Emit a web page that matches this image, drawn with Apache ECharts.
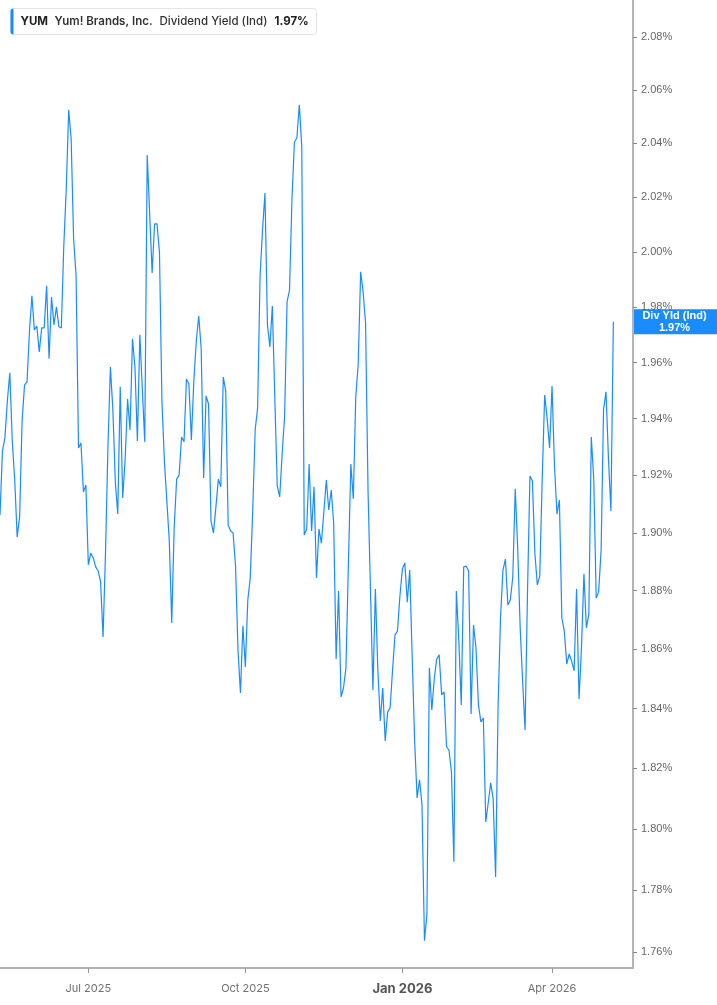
<!DOCTYPE html>
<html>
<head>
<meta charset="utf-8">
<script src="https://cdn.jsdelivr.net/npm/echarts@6/dist/echarts.min.js"></script>
<style>
html,body{margin:0;padding:0;background:#fff;}
#chart{width:717px;height:1005px;}
</style>
</head>
<body>
<div id="chart"></div>
<script>
// ---- DATA ----
const startDate = '2025-05-08';
const holidays = ['2025-05-26','2025-06-19','2025-07-04','2025-09-01','2025-11-27','2025-12-25',
  '2026-01-01','2026-01-19','2026-02-16','2026-04-03','2026-05-25'];
const categoryCount = 259;
const yieldValues = [
 1.9062,1.9286,1.9332,1.9463,1.9563,1.9321,1.9184,1.8985,1.9055,1.9392,
 1.9520,1.9530,1.9710,1.9840,1.9717,1.9731,1.9638,1.9724,1.9724,1.9876,
 1.9613,1.9836,1.9735,1.9800,1.9728,1.9724,2.0021,2.0231,2.0525,2.0416,
 2.0047,1.9916,1.9296,1.9314,1.9142,1.9166,1.8889,1.8930,1.8913,1.8882,
 1.8868,1.8830,1.8642,1.8930,1.9304,1.9584,1.9431,1.9177,1.9065,1.9513,
 1.9121,1.9254,1.9470,1.9360,1.9685,1.9584,1.9321,1.9699,1.9506,1.9318,
 2.0357,2.0139,1.9923,2.0102,2.0102,1.9996,1.9463,1.9251,1.9111,1.8971,
 1.8690,1.9020,1.9187,1.9201,1.9335,1.9318,1.9541,1.9523,1.9325,1.9534,
 1.9677,1.9767,1.9649,1.9191,1.9481,1.9452,1.9041,1.8999,1.9090,1.9187,
 1.9160,1.9548,1.9498,1.9027,1.9006,1.8999,1.8885,1.8598,1.8452,1.8680,
 1.8540,1.8768,1.8844,1.9076,1.9360,1.9438,1.9912,2.0080,2.0216,1.9735,
 1.9656,1.9803,1.9477,1.9163,1.9125,1.9275,1.9409,1.9818,1.9861,2.0194,
 2.0405,2.0420,2.0544,2.0387,1.8992,1.9013,1.9240,1.9006,1.9160,1.8844,
 1.9013,1.8964,1.9072,1.9184,1.9079,1.9149,1.9034,1.8567,1.8799,1.8439,
 1.8469,1.8537,1.8889,1.9240,1.9118,1.9477,1.9595,1.9927,1.9854,1.9742,
 1.9149,1.8799,1.8462,1.8806,1.8530,1.8358,1.8469,1.8291,1.8388,1.8402,
 1.8530,1.8649,1.8662,1.8782,1.8875,1.8896,1.8761,1.8871,1.8574,1.8291,
 1.8102,1.8162,1.8079,1.7636,1.7720,1.8537,1.8395,1.8500,1.8567,1.8581,
 1.8446,1.8456,1.8272,1.8261,1.8188,1.7892,1.8799,1.8632,1.8412,1.8882,
 1.8885,1.8868,1.8382,1.8683,1.8604,1.8412,1.8355,1.8368,1.8023,1.8086,
 1.8152,1.8099,1.7843,1.8405,1.8707,1.8871,1.8909,1.8751,1.8768,1.8847,
 1.9153,1.8947,1.8676,1.8493,1.8328,1.8796,1.9198,1.9180,1.8930,1.8820,
 1.8851,1.9191,1.9484,1.9402,1.9296,1.9516,1.9233,1.9065,1.9114,1.8707,
 1.8662,1.8550,1.8584,1.8560,1.8527,1.8806,1.8432,1.8604,1.8858,1.8673,
 1.8720,1.9335,1.9187,1.8775,1.8796,1.8940,1.9434,1.9495,1.9258,1.9076,
 1.9746
];
const yTicks = [1.76,1.78,1.80,1.82,1.84,1.86,1.88,1.90,1.92,1.94,1.96,1.98,2.00,2.02,2.04,2.06,2.08];
const yMin = 1.75486, yMax = 2.09410;
const tickMonths = [0,3,6,9];
const monthNames = ['Jan','Feb','Mar','Apr','May','Jun','Jul','Aug','Sep','Oct','Nov','Dec'];
const legendTexts = {ticker:'YUM', name:'Yum! Brands, Inc.', metric:'Dividend Yield (Ind)'};
const endLabelTitle = 'Div Yld (Ind)';

// ---- build trading-day categories ----
function fmt(d){const m=d.getUTCMonth()+1, dd=d.getUTCDate();return d.getUTCFullYear()+'-'+(m<10?'0':'')+m+'-'+(dd<10?'0':'')+dd;}
const dates = [];
{
  let d = new Date(startDate+'T00:00:00Z');
  while (dates.length < categoryCount) {
    const wd = d.getUTCDay();
    const s = fmt(d);
    if (wd !== 0 && wd !== 6 && holidays.indexOf(s) < 0) dates.push(s);
    d = new Date(d.getTime() + 86400000);
  }
}
const isQuarterStart = (idx) => {
  if (idx === 0) return false;
  const m = +dates[idx].slice(5,7) - 1, pm = +dates[idx-1].slice(5,7) - 1;
  return m !== pm && tickMonths.indexOf(m) >= 0;
};

const BLUE = '#1a8cff';
const chart = echarts.init(document.getElementById('chart'), null, {renderer:'canvas'});
chart.setOption({
  animation: false,
  backgroundColor: '#fff',
  grid: {left: 0, right: 84, top: 0, bottom: 37, containLabel: false},
  xAxis: {
    type: 'category', data: dates, boundaryGap: false,
    axisLine: {show: true, lineStyle: {color: '#b3b3b3', width: 2}},
    axisTick: {show: true, interval: (i) => isQuarterStart(i), length: 5, lineStyle: {color: '#999', width: 1}},
    axisLabel: {
      interval: (i) => isQuarterStart(i), margin: 15, color: '#707070', fontSize: 11,
      fontFamily: 'Inter, Roboto, sans-serif',
      formatter: (v) => {
        const m = +v.slice(5,7) - 1, y = v.slice(0,4);
        const t = monthNames[m] + ' ' + y;
        return m === 0 ? '{b|' + t + '}' : t;
      },
      rich: {b: {fontSize: 13, fontWeight: 'bold', color: '#555', fontFamily: 'Inter, Roboto, sans-serif'}}
    },
    splitLine: {show: false}
  },
  yAxis: {
    type: 'log', logBase: 10, position: 'right', min: yMin, max: yMax,
    axisLine: {show: true, lineStyle: {color: '#b3b3b3', width: 2}},
    axisTick: {show: true, customValues: yTicks, length: 4, lineStyle: {color: '#888'}},
    axisLabel: {customValues: yTicks, margin: 8, color: '#666', fontSize: 11,
      fontFamily: '"Liberation Sans", Arial, sans-serif',
      formatter: (v) => (+v).toFixed(2) + '%'},
    splitLine: {show: false}
  },
  series: [{
    type: 'line', data: yieldValues, showSymbol: false, symbol: 'none',
    lineStyle: {color: BLUE, width: 1.2}, itemStyle: {color: BLUE}
  }]
});

const lastVal = yieldValues[yieldValues.length - 1];
const ly = chart.convertToPixel({yAxisIndex: 0}, lastVal);
const axisX = chart.convertToPixel({xAxisIndex: 0}, dates[dates.length - 1]);
const lastTxt = lastVal.toFixed(2) + '%';
chart.setOption({
  graphic: [
    {type: 'group', left: 10, top: 8, z: 100, children: [
      {type: 'rect', shape: {x: 0, y: 0, width: 306, height: 26, r: 3}, style: {fill: '#fff', stroke: '#e4e4e4', lineWidth: 1}},
      {type: 'rect', shape: {x: 0, y: 0, width: 3, height: 26, r: [3,0,0,3]}, style: {fill: BLUE}},
      {type: 'text', x: 10, y: 13, style: {text: legendTexts.ticker, fill: '#222', font: 'bold 11.5px Inter, sans-serif', verticalAlign: 'middle'}},
      {type: 'text', x: 44, y: 13, style: {text: legendTexts.name, fill: '#333', font: '600 11.5px Inter, sans-serif', verticalAlign: 'middle'}},
      {type: 'text', x: 149, y: 13, style: {text: legendTexts.metric, fill: '#333', font: '500 11.5px Inter, sans-serif', verticalAlign: 'middle'}},
      {type: 'text', x: 264, y: 13, style: {text: lastTxt, fill: '#222', font: 'bold 11.5px Inter, sans-serif', verticalAlign: 'middle'}}
    ]},
    {type: 'group', x: axisX - 1, y: ly - 12.5, z: 100, children: [
      {type: 'rect', shape: {x: 0, y: 0, width: 717 - axisX + 1, height: 25}, style: {fill: BLUE}},
      {type: 'text', x: (717 - axisX + 1) / 2, y: 12.5, style: {text: endLabelTitle + '\n' + lastTxt, fill: '#fff',
        font: 'bold 11px "Liberation Sans", Arial, sans-serif', align: 'center', verticalAlign: 'middle', lineHeight: 12}}
    ]}
  ]
});
</script>
</body>
</html>
